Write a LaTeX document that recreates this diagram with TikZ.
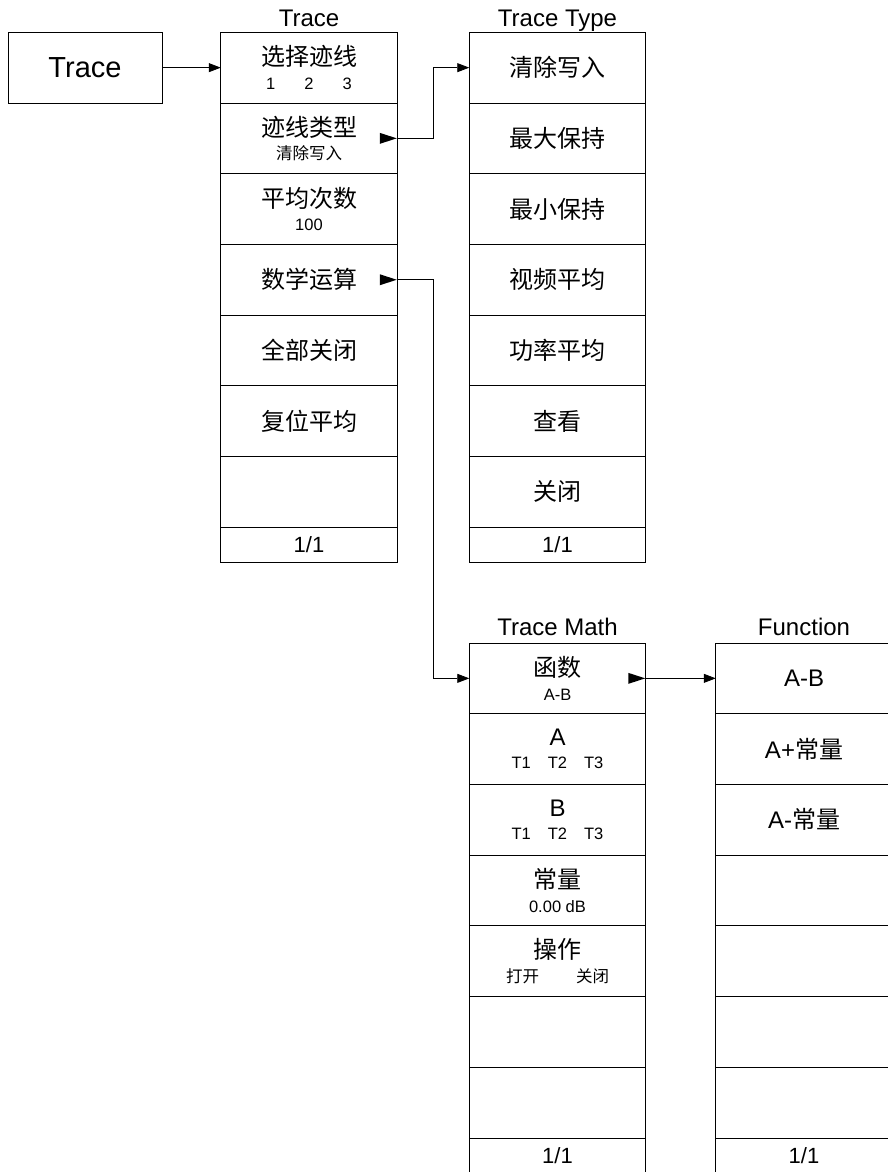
\documentclass[tikz,border=0pt]{standalone}
\usepackage{fontspec}
\setmainfont{Liberation Sans}
\newfontfamily\cjk{Noto Sans CJK SC}
\usetikzlibrary{positioning,arrows.meta}
\newcommand{\subtxt}[1]{{\fontsize{16.5}{16.5}\selectfont #1}}

\begin{document}
\begin{tikzpicture}[
  line width=0.8pt,
  menu/.style={draw, outer sep=0pt, inner sep=0pt, minimum width=176.5pt, minimum height=70.7pt, align=center, font=\fontsize{24}{24}\selectfont},
  page/.style={menu, minimum height=35.5pt, font=\fontsize{22}{22}\selectfont},
  title/.style={inner sep=0pt, anchor=base, font=\fontsize{24}{24}\selectfont},
  more/.style={path picture={\fill ([xshift=-0.5pt]path picture bounding box.east) -- ++(-17pt,5.5pt) -- ++(0pt,-11pt) -- cycle;}},
  arrow/.style={-{Triangle[length=12pt,width=9pt]}}
]
\useasboundingbox (0,0) rectangle (888pt,-1172pt);
\node[menu, minimum width=154pt, font=\fontsize{29}{29}\selectfont] (trace) at (85pt,-67.65pt) {Trace};

% Trace
\node[menu] (select) at (309pt,-67.65pt) {{\cjk 选择迹线}\\[-0.5pt]\subtxt{1\hspace{29pt}2\hspace{29pt}3}};
\node[menu, more, below=0pt of select] (tracetype) {{\cjk 迹线类型}\\[-0.5pt]\subtxt{\cjk 清除写入}};
\node[menu, below=0pt of tracetype] (average) {{\cjk 平均次数}\\[-0.5pt]\subtxt{100}};
\node[menu, more, below=0pt of average] (math) {\cjk 数学运算};
\node[menu, below=0pt of math] (alloff) {\cjk 全部关闭};
\node[menu, below=0pt of alloff] (reset) {\cjk 复位平均};
\node[menu, below=0pt of reset] (traceblank) {};
\node[page, below=0pt of traceblank] (tracepage) {1/1};
\node[title] (tracetitle) at ([yshift=5.6pt]select.north) {Trace};

% Trace Type
\node[menu] (clear) at (557.5pt,-67.65pt) {\cjk 清除写入};
\node[menu, below=0pt of clear] (maxhold) {\cjk 最大保持};
\node[menu, below=0pt of maxhold] (minhold) {\cjk 最小保持};
\node[menu, below=0pt of minhold] (videoavg) {\cjk 视频平均};
\node[menu, below=0pt of videoavg] (poweravg) {\cjk 功率平均};
\node[menu, below=0pt of poweravg] (view) {\cjk 查看};
\node[menu, below=0pt of view] (off) {\cjk 关闭};
\node[page, below=0pt of off] (typepage) {1/1};
\node[title] (typetitle) at ([yshift=5.6pt]clear.north) {Trace Type};

% Trace Math
\node[menu, more] (function) at (557.5pt,-678.35pt) {{\cjk 函数}\\[-0.5pt]\subtxt{A-B}};
\node[menu, below=0pt of function] (opa) {A\\[-0.5pt]\subtxt{T1\hspace{17pt}T2\hspace{17pt}T3}};
\node[menu, below=0pt of opa] (opb) {B\\[-0.5pt]\subtxt{T1\hspace{17pt}T2\hspace{17pt}T3}};
\node[menu, below=0pt of opb] (const) {{\cjk 常量}\\[-0.5pt]\subtxt{0.00 dB}};
\node[menu, below=0pt of const] (operate) {{\cjk 操作}\\[-0.5pt]\subtxt{\cjk 打开\hspace{37pt}关闭}};
\node[menu, below=0pt of operate] (mathblank1) {};
\node[menu, below=0pt of mathblank1] (mathblank2) {};
\node[page, below=0pt of mathblank2] (mathpage) {1/1};
\node[title] (mathtitle) at ([yshift=8pt]function.north) {Trace Math};

% Function
\node[menu] (amb) at (804pt,-678.35pt) {A-B};
\node[menu, below=0pt of amb] (apc) {A+{\cjk 常量}};
\node[menu, below=0pt of apc] (amc) {A-{\cjk 常量}};
\node[menu, below=0pt of amc] (funcblank1) {};
\node[menu, below=0pt of funcblank1] (funcblank2) {};
\node[menu, below=0pt of funcblank2] (funcblank3) {};
\node[menu, below=0pt of funcblank3] (funcblank4) {};
\node[page, below=0pt of funcblank4] (funcpage) {1/1};
\node[title] (functitle) at ([yshift=8pt]amb.north) {Function};

\draw[arrow] (trace) -- (select);
\draw[arrow] (tracetype.east) -- ++(36pt,0) |- (clear);
\draw[arrow] (math.east) -- ++(36pt,0) |- (function);
\draw[arrow] (function) -- (amb);
\end{tikzpicture}
\end{document}
